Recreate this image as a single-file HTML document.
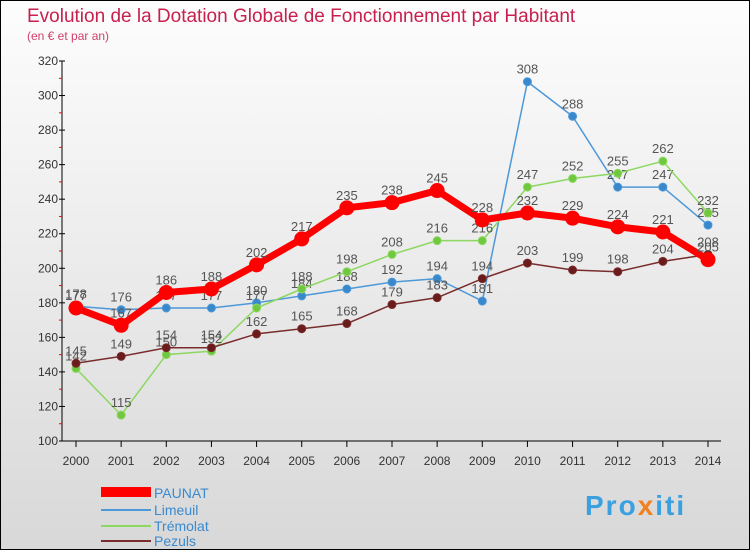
<!DOCTYPE html>
<html><head><meta charset="utf-8"><style>
body{margin:0;width:750px;height:550px;overflow:hidden;font-family:"Liberation Sans",sans-serif}
#wrap{position:absolute;left:0;top:0;width:748px;height:548px;border:1px solid #000;background:linear-gradient(#fdfdfd,#d8d8d8)}
</style></head><body>
<div id="wrap">
<svg id="svg" width="748" height="548" xmlns="http://www.w3.org/2000/svg">
<text x="26" y="21" font-size="19" fill="#c8204e">Evolution de la Dotation Globale de Fonctionnement par Habitant</text>
<text x="26" y="39" font-size="12" fill="#d0406a">(en € et par an)</text>
<g id="axes"></g><g id="series"></g>
<g>
<rect x="100" y="486" width="50" height="10" fill="#f00"/><text x="153" y="497" font-size="14" fill="#3a8ad0">PAUNAT</text>
<line x1="100" y1="509" x2="150" y2="509" stroke="#4c98d8" stroke-width="2"/><text x="153" y="514" font-size="14" fill="#3a8ad0">Limeuil</text>
<line x1="100" y1="525" x2="150" y2="525" stroke="#8cd860" stroke-width="2"/><text x="153" y="530" font-size="14" fill="#3a8ad0">Trémolat</text>
<line x1="100" y1="540" x2="150" y2="540" stroke="#7a2c2c" stroke-width="2"/><text x="153" y="545" font-size="14" fill="#3a8ad0">Pezuls</text>
</g>
<text x="584" y="514" font-size="28" font-weight="bold" letter-spacing="2" fill="#3aa0e0">Pro<tspan fill="#f08020">x</tspan>iti</text>
</svg></div>
<script>
const years=[2000,2001,2002,2003,2004,2005,2006,2007,2008,2009,2010,2011,2012,2013,2014];
const yTicks=[100,120,140,160,180,200,220,240,260,280,300,320];
const paunat=[177,167,186,188,202,217,235,238,245,228,232,229,224,221,205];
const limeuil=[178,176,177,177,180,184,188,192,194,181,308,288,247,247,225];
const tremolat=[142,115,150,152,177,188,198,208,216,216,247,252,255,262,232];
const pezuls=[145,149,154,154,162,165,168,179,183,194,203,199,198,204,208];
const NS="http://www.w3.org/2000/svg";
const X=i=>75+(707-75)*(i)/(years.length-1);
const Y=v=>440-(v-100)*(380/220);
function mk(t,a,p){const e=document.createElementNS(NS,t);for(const k in a)e.setAttribute(k,a[k]);p.appendChild(e);return e;}
const ax=document.getElementById('axes');
const yl=mk('line',{x1:61,y1:60,x2:61,y2:440,stroke:'#000'},ax);


mk('line',{x1:61,y1:440,x2:720,y2:440,stroke:'#000'},ax);
yTicks.forEach(v=>{const t=mk('text',{x:57,y:Y(v)+4,'font-size':12,fill:'#333','text-anchor':'end'},ax);t.textContent=v;


mk('line',{x1:58,y1:Y(v),x2:64,y2:Y(v),stroke:'#000'},ax);
if(v<320)mk('line',{x1:58,y1:Y(v+10),x2:61,y2:Y(v+10),stroke:'#f00'},ax);});
years.forEach((y,i)=>{const t=mk('text',{x:X(i),y:464,'font-size':12,fill:'#333','text-anchor':'middle'},ax);t.textContent=y;


mk('line',{x1:X(i),y1:440,x2:X(i),y2:446,stroke:'#000'},ax);});
const sg=document.getElementById('series');
function draw(data,color,w,r,name,dot){
const g=mk('g',{},sg);


mk('polyline',{points:data.map((v,i)=>X(i)+','+Y(v)).join(' '),fill:'none',stroke:color,'stroke-width':w,'stroke-linejoin':'round'},g);
data.forEach((v,i)=>{const c=mk('circle',{cx:X(i),cy:Y(v),r:r,fill:dot,stroke:color,'stroke-width':1},g);


const t=mk('text',{x:X(i),y:Y(v)-8,'font-size':13,fill:'#555','text-anchor':'middle'},g);t.textContent=v;});}
draw(limeuil,'#4c98d8',1.5,4,'limeuil','#3a88cc');
draw(tremolat,'#8cd860',1.5,4,'tremolat','#70c840');
draw(pezuls,'#7a2c2c',1.5,4,'pezuls','#6a1c1c');
draw(paunat,'#f00',7,7,'paunat','#f00');
</script>
</body></html>
